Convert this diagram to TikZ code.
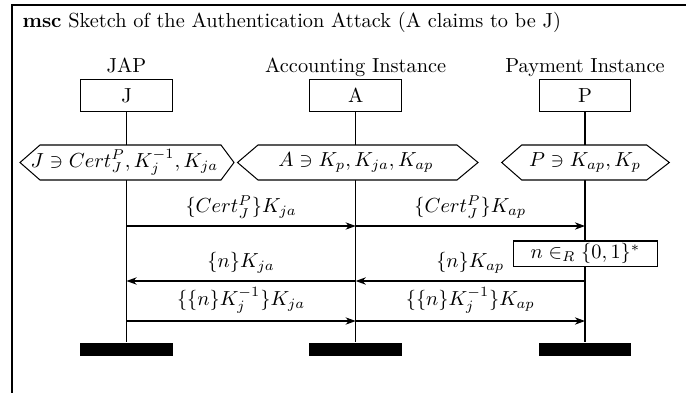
\documentclass[tikz,border=0pt]{standalone}
\usetikzlibrary{arrows.meta}
\begin{document}
\begin{tikzpicture}[x=0.4915pt,y=-0.4915pt,
  line width=0.5pt,
  headbox/.style={draw,minimum width=45.2pt,minimum height=15.7pt,inner sep=0pt},
  endbar/.style={fill=black,draw=none,minimum width=45.5pt,minimum height=6.4pt,inner sep=0pt},
  msgarrow/.style={-{Stealth[length=5pt,width=3.6pt,inset=1.6pt]}},
  condshape/.style={draw,fill=white,line join=miter},
  actbox/.style={draw,fill=white,minimum width=70.3pt,minimum height=12.3pt,inner sep=0pt},
  lifeline/.style={line width=0.5pt}]
\clip (0,0) rectangle (686,392);
\fill[white] (0,0) rectangle (686,392);
% frame
\draw[line width=0.6pt] (12,5) rectangle (720,420);
\node[anchor=base west,inner sep=0pt] (title) at (22,27) {\textbf{msc} Sketch of the Authentication Attack (A claims to be J)};
% instance names
\node[anchor=base,inner sep=0pt] (nJ) at (126.5,72) {JAP};
\node[anchor=base,inner sep=0pt] (nA) at (355.7,72) {Accounting Instance};
\node[anchor=base,inner sep=0pt] (nP) at (585,72) {Payment Instance};
% head boxes
\node[headbox] (hJ) at (126.5,95.5) {J};
\node[headbox] (hA) at (355.7,95.5) {A};
\node[headbox] (hP) at (585,95.5) {P};
% end bars
\node[endbar] (eJ) at (126.5,349.5) {};
\node[endbar] (eA) at (355.7,349.5) {};
\node[endbar] (eP) at (585,349.5) {};
% lifelines
\draw[lifeline] (hJ.south) -- (eJ.north);
\draw[lifeline] (hA.south) -- (eA.north);
\draw[lifeline] (hP.south) -- (eP.north);
% conditions
\draw[condshape] (20,162.5) -- (40,145) -- (221,145) -- (234,162.5) -- (221,180) -- (40,180) -- cycle;
\node (cJ) at (124.5,162.5) {$J\ni Cert_J^P,K_j^{-1},K_{ja}$};
\draw[condshape] (237.5,162.5) -- (258,145) -- (457,145) -- (478,162.5) -- (457,180) -- (258,180) -- cycle;
\node (cA) at (356,162.5) {$A\ni K_p,K_{ja},K_{ap}$};
\draw[condshape] (501.7,162.5) -- (521.7,145) -- (646.7,145) -- (669.3,162.5) -- (646.7,180) -- (521.7,180) -- cycle;
\node (cP) at (585,162.5) {$P\ni K_{ap},K_p$};
% message coordinates
\coordinate (J1) at (126.5,226);
\coordinate (A1) at (355.7,226);
\coordinate (P1) at (585,226);
\coordinate (J2) at (126.5,281);
\coordinate (A2) at (355.7,281);
\coordinate (P2) at (585,281);
\coordinate (J3) at (126.5,321);
\coordinate (A3) at (355.7,321);
\coordinate (P3) at (585,321);
% messages
\draw[msgarrow] (J1) -- (A1) node[midway,above] {$\{Cert_J^P\}K_{ja}$};
\draw[msgarrow] (A1) -- (P1) node[midway,above] {$\{Cert_J^P\}K_{ap}$};
\node[actbox] (act) at (585.5,253.5) {$n\in_R\{0,1\}^*$};
\draw[msgarrow] (P2) -- (A2) node[midway,above] {$\{n\}K_{ap}$};
\draw[msgarrow] (A2) -- (J2) node[midway,above] {$\{n\}K_{ja}$};
\draw[msgarrow] (J3) -- (A3) node[midway,above] {$\{\{n\}K_j^{-1}\}K_{ja}$};
\draw[msgarrow] (A3) -- (P3) node[midway,above] {$\{\{n\}K_j^{-1}\}K_{ap}$};
\end{tikzpicture}
\end{document}
